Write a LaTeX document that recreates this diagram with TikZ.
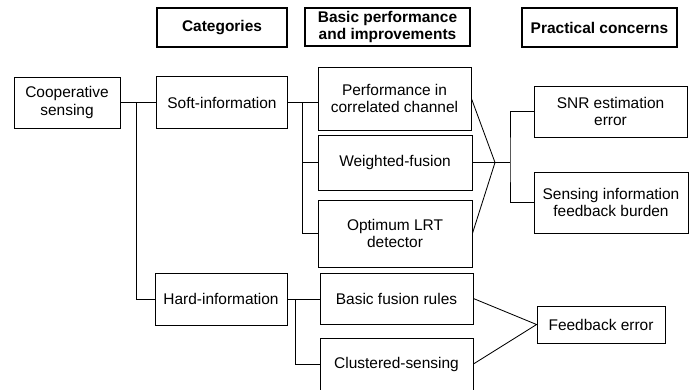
\documentclass[tikz,border=0pt]{standalone}
\usepackage{fontspec}
\setmainfont{Liberation Sans}
\usepackage{tikz}

\begin{document}
\begin{tikzpicture}[
    x=0.025cm,y=-0.025cm,
    every node/.style={font={\fontsize{11}{12.5}\selectfont},align=center},
    wh/.style 2 args={minimum width=#1*0.025cm,minimum height=#2*0.025cm},
    box/.style={draw,line width=.6pt,inner sep=0pt},
    head/.style={draw,line width=1.4pt,inner sep=0pt,
        font={\fontsize{11}{12.5}\selectfont\bfseries}},
    link/.style={line width=.6pt},
    ]
    \useasboundingbox (0,0) rectangle (697,389);
    % Column headers
    \node[head,wh={130}{39}] (hcat) at (222,27.5) {Categories};
    \node[head,wh={165}{38}] (hbasic) at (387.5,27)
         {Basic performance\\and improvements};
    \node[head,wh={155}{39}] (hprac) at (599.5,27.5) {Practical concerns};
    % Root and categories
    \node[box,wh={106}{51}] (coop) at (67,102.5) {Cooperative\\sensing};
    \node[box,wh={131}{52}] (soft) at (222,102.5) {Soft-information};
    \node[box,wh={132}{52}] (hard) at (221,299) {Hard-information};
    % Basic performance and improvements
    \node[box,wh={153}{63}] (corr) at (394.5,98.5)
         {Performance in\\correlated channel};
    \node[box,wh={154}{55}] (wfus) at (395,162.5) {Weighted-fusion};
    \node[box,wh={154}{67}] (lrt) at (395,233.5) {Optimum LRT\\detector};
    \node[box,wh={153}{51}] (rules) at (396.5,298.5) {Basic fusion rules};
    \node[box,wh={153}{52}] (clus) at (396.5,364) {Clustered-sensing};
    % Practical concerns
    \node[box,wh={153}{51}] (snr) at (610.5,111.5) {SNR estimation\\error};
    \node[box,wh={154}{61}] (burden) at (611,202.5)
         {Sensing information\\feedback burden};
    \node[box,wh={128}{37}] (fberr) at (601,324.5) {Feedback error};
    % Junction points
    \coordinate (cj) at (136,0);
    \coordinate (sj) at (302,0);
    \coordinate (hj) at (295,0);
    \coordinate (mj) at (495,162.5);
    \coordinate (pj) at (510,0);
    % Root to categories
    \draw[link] (coop) -- (soft);
    \draw[link] (coop.east -| cj) |- (hard);
    % Soft-information branch
    \draw[link] (soft) -- (soft -| corr.west);
    \draw[link] (soft -| sj) |- (wfus);
    \draw[link] (soft -| sj) |- (lrt);
    % Hard-information branch
    \draw[link] (hard) -- (hard -| rules.west);
    \draw[link] (hard -| hj) |- (clus);
    % Soft methods to their concerns
    \draw[link] (corr.east) -- (mj) -- (lrt.east);
    \draw[link] (wfus) -- (mj) -- (mj -| pj);
    \draw[link] (snr) -| (mj -| pj) |- (burden);
    % Hard methods to feedback error
    \draw[link] (rules.east) -- (fberr.west) -- (clus.east);
\end{tikzpicture}
\end{document}
